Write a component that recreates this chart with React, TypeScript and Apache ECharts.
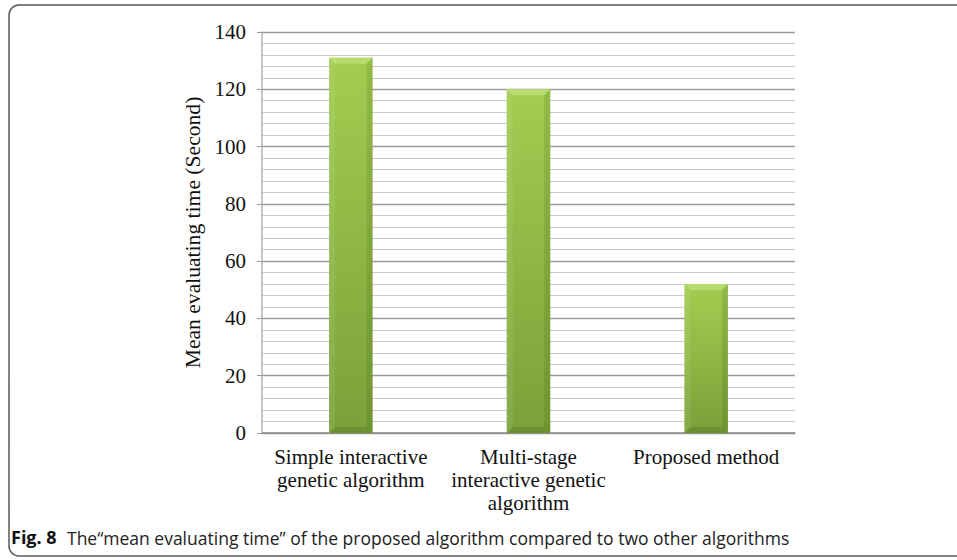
import React, { useEffect, useRef } from "react";
import * as echarts from "echarts";

const categories = [
  "Simple interactive\ngenetic algorithm",
  "Multi-stage\ninteractive genetic\nalgorithm",
  "Proposed method",
];
const meanTimes = [131, 120, 52];
const yTicks = { min: 0, max: 140, interval: 20 };
const axisTitle = "Mean evaluating time (Second)";
const captionBold = "Fig. 8";
const captionText =
  "The\u201Cmean evaluating time\u201D of the proposed algorithm compared to two other algorithms";

const SERIF = "'Liberation Serif', 'Times New Roman', serif";

export default function App() {
  const ref = useRef<HTMLDivElement>(null);

  useEffect(() => {
    if (!ref.current) return;
    const chart = echarts.init(ref.current, null, { renderer: "svg" });

    // bevelled green column, drawn from the category index and its value
    const renderBar = (params: any, api: any) => {
      const idx = api.value(0);
      const v = api.value(1);
      const top = api.coord([idx, v]);
      const base = api.coord([idx, 0]);
      const w = api.size([1, 0])[0] * 0.245;
      const x0 = top[0] - w / 2;
      const y0 = top[1];
      const h = base[1] - top[1];
      const b = Math.min(6, h / 3);
      return {
        type: "group",
        children: [
          {
            type: "rect",
            shape: { x: x0, y: y0, width: w, height: h },
            style: {
              fill: new echarts.graphic.LinearGradient(0, 0, 0, 1, [
                { offset: 0, color: "#a3cd50" },
                { offset: 1, color: "#7aa139" },
              ]),
            },
          },
          {
            type: "polygon",
            shape: { points: [[x0, y0], [x0 + w, y0], [x0 + w - b, y0 + b], [x0 + b, y0 + b]] },
            style: { fill: "#b8dc70" },
          },
          {
            type: "polygon",
            shape: { points: [[x0, y0], [x0 + b, y0 + b], [x0 + b, y0 + h - b], [x0, y0 + h]] },
            style: { fill: "rgba(255,255,255,0.08)" },
          },
          {
            type: "polygon",
            shape: { points: [[x0 + w, y0], [x0 + w, y0 + h], [x0 + w - b, y0 + h - b], [x0 + w - b, y0 + b]] },
            style: { fill: "rgba(40,70,10,0.14)" },
          },
          {
            type: "polygon",
            shape: { points: [[x0, y0 + h], [x0 + b, y0 + h - b], [x0 + w - b, y0 + h - b], [x0 + w, y0 + h]] },
            style: { fill: "rgba(40,70,10,0.18)" },
          },
        ],
      };
    };

    chart.setOption({
      animation: false,
      backgroundColor: "#ffffff",
      grid: { left: 262, right: 162, top: 32, bottom: 127 },
      xAxis: {
        type: "category",
        data: categories,
        axisLine: { show: true, lineStyle: { color: "#8c8c8c", width: 1.5 } },
        axisTick: { show: false },
        axisLabel: {
          interval: 0,
          margin: 12,
          color: "#111",
          fontFamily: SERIF,
          fontSize: 21,
          lineHeight: 23,
        },
      },
      yAxis: {
        type: "value",
        min: yTicks.min,
        max: yTicks.max,
        interval: yTicks.interval,
        name: axisTitle,
        nameLocation: "middle",
        nameGap: 58,
        nameTextStyle: { color: "#111", fontFamily: SERIF, fontSize: 21.6 },
        axisLine: { show: true, lineStyle: { color: "#b5b5b5", width: 1.5 } },
        axisTick: { show: true, length: 5, lineStyle: { color: "#999" } },
        axisLabel: { color: "#111", fontFamily: SERIF, fontSize: 21, margin: 16 },
        splitLine: { show: true, lineStyle: { color: "#9a9a9a", width: 1.3 } },
        minorTick: { show: false, splitNumber: 5 },
        minorSplitLine: { show: true, lineStyle: { color: "#c9c9c9", width: 1.2 } },
      },
      series: [
        {
          type: "custom",
          renderItem: renderBar,
          data: meanTimes.map((v, i) => [i, v]),
          encode: { x: 0, y: 1 },
          z: 5,
        },
      ],
      graphic: [
        {
          type: "rect",
          shape: { x: 9, y: 5, width: 980, height: 551, r: 10 },
          style: { fill: "none", stroke: "#5a5a5a", lineWidth: 1.5 },
          silent: true,
        },
        {
          type: "text",
          left: 11,
          top: 528,
          style: {
            text: captionBold,
            fontFamily: "'Open Sans', sans-serif",
            fontWeight: "bold",
            fontSize: 18,
            fill: "#111",
          },
        },
        {
          type: "text",
          left: 67,
          top: 529,
          style: {
            text: captionText,
            fontFamily: "'Open Sans', sans-serif",
            fontSize: 17.5,
            fill: "#222",
          },
        },
      ],
    });

    return () => chart.dispose();
  }, []);

  return (
    <div
      ref={ref}
      style={{ position: "fixed", left: 0, top: 0, width: 957, height: 560 }}
    />
  );
}
